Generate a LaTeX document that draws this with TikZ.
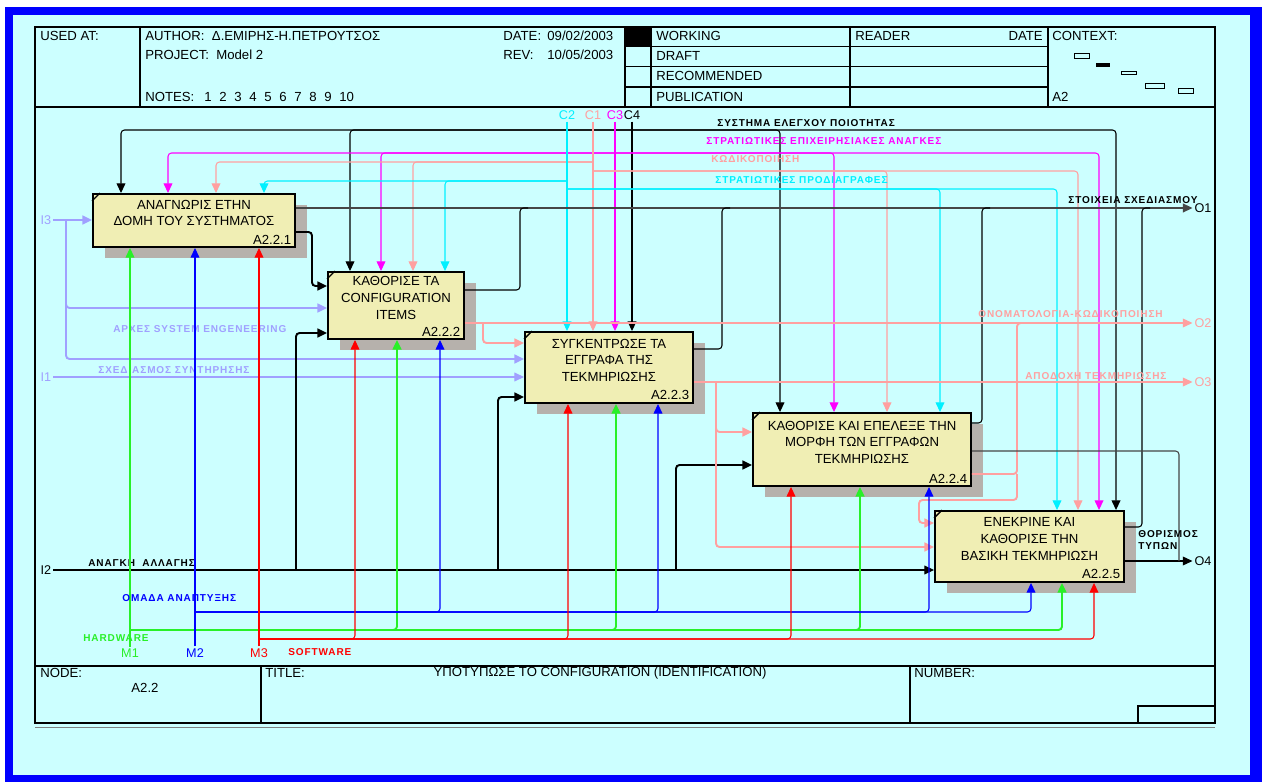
\documentclass[tikz,border=0pt]{standalone}
\usepackage{fontspec}
\setmainfont{Liberation Sans}
\newfontfamily\lblfont[LetterSpace=9]{Liberation Sans}
\usetikzlibrary{arrows.meta}

\definecolor{frameblue}{RGB}{0,0,255}
\definecolor{bgcyan}{RGB}{204,255,255}
\definecolor{boxfill}{RGB}{240,238,180}
\definecolor{shadowgray}{RGB}{182,177,172}
\definecolor{lav}{RGB}{160,160,255}
\definecolor{idpink}{RGB}{255,160,160}
\definecolor{mgnt}{RGB}{255,0,255}
\definecolor{cyn}{RGB}{0,240,255}
\definecolor{grn}{RGB}{40,240,40}
\definecolor{outgray}{RGB}{70,70,70}

\begin{document}
\begin{tikzpicture}[x=0.02cm, y=-0.02cm,
    >={Triangle[length=5.5pt,width=5pt]},
    box/.style={draw, line width=1.1pt, fill=boxfill, inner sep=0pt},
    boxtxt/.style={align=center, font=\fontsize{7.5}{9.5}\selectfont, inner sep=0pt},
    boxid/.style={font=\fontsize{7.5}{8}\selectfont, inner sep=0pt, anchor=south east},
    txt/.style={font=\fontsize{7.5}{8}\selectfont, inner sep=0pt, anchor=west},
    icom/.style={font=\fontsize{7.2}{8}\selectfont, inner sep=1pt},
    lbl/.style={font=\lblfont\bfseries\fontsize{5.7}{7}\selectfont, inner sep=0pt, anchor=west},
    wire/.style={line width=0.6pt, rounded corners=2pt},
    fat/.style={line width=1.1pt, rounded corners=2pt}]
  \useasboundingbox (0,0) rectangle (1266,783);

  % Sheet and frame
  \fill[white] (0,0) rectangle (1266,783);
  \fill[frameblue] (5,7) rectangle (1262,782);
  \fill[bgcyan] (13,15) rectangle (1250,775);
  \draw[line width=1pt] (35,27) rectangle (1215,723);
  \draw[gray, line width=1pt] (35,727.5) -- (1215,727.5);

  % Header block
  \draw[line width=0.8pt] (35,107) -- (1215,107);
  \draw[line width=0.8pt] (140,27) -- (140,107);
  \draw[line width=0.8pt] (625,27) -- (625,107);
  \draw[line width=0.8pt] (651,27) -- (651,107);
  \draw[line width=0.8pt] (850,27) -- (850,107);
  \draw[line width=0.8pt] (1048,27) -- (1048,107);
  \draw[line width=0.8pt] (625,46.5) -- (1048,46.5);
  \draw[line width=0.8pt] (625,66.5) -- (1048,66.5);
  \draw[line width=0.8pt] (625,87) -- (1048,87);
  \fill (625,27) rectangle (651,46.5);

  \node[txt] (usedat) at (40,36) {USED AT:};
  \node[txt] (author) at (145,36) {AUTHOR:\ \ Δ.ΕΜΙΡΗΣ-Η.ΠΕΤΡΟΥΤΣΟΣ};
  \node[txt] (project) at (145,55) {PROJECT:\ \ Model 2};
  \node[txt] (notes) at (145,97) {NOTES:};
  \foreach \n in {1,...,10}
    \node[txt] (note\n) at (189+15*\n,97) {\n};
  \node[txt] (date) at (503,36) {DATE:};
  \node[txt] (dateval) at (547,36) {09/02/2003};
  \node[txt] (rev) at (503,55) {REV:};
  \node[txt] (revval) at (547,55) {10/05/2003};
  \node[txt] (working) at (656,36) {WORKING};
  \node[txt] (draft) at (656,56) {DRAFT};
  \node[txt] (recommended) at (656,76) {RECOMMENDED};
  \node[txt] (publication) at (656,97) {PUBLICATION};
  \node[txt] (reader) at (855,36) {READER};
  \node[txt, anchor=east] (readerdate) at (1043,36) {DATE};
  \node[txt] (context) at (1052,36) {CONTEXT:};
  \node[txt] (ctxnode) at (1052,97) {A2};

  % Context map
  \draw[line width=0.5pt] (1074,53) rectangle (1089,58);
  \fill (1096,63) rectangle (1110,67);
  \draw[line width=0.5pt] (1121,71) rectangle (1136,74);
  \draw[line width=0.5pt] (1145,83) rectangle (1164,88);
  \draw[line width=0.5pt] (1178,88) rectangle (1193,93);

  % Footer block
  \draw[line width=0.8pt] (35,666) -- (1215,666);
  \draw[line width=0.8pt] (261,666) -- (261,723);
  \draw[line width=0.8pt] (910,666) -- (910,723);
  \draw[line width=0.8pt] (1138,723) -- (1138,706) -- (1215,706);
  \node[txt] (nodelbl) at (40,673) {NODE:};
  \node[txt, anchor=center] (nodeval) at (145,688) {A2.2};
  \node[txt] (titlelbl) at (265,673) {TITLE:};
  \node[txt, anchor=center] (title) at (600,673) {ΥΠΟΤΥΠΩΣΕ ΤΟ CONFIGURATION (IDENTIFICATION)};
  \node[txt] (numberlbl) at (914,673) {NUMBER:};

  % Shadows
  \fill[shadowgray] (105,205) rectangle (307,258);
  \fill[shadowgray] (340,283) rectangle (476,350);
  \fill[shadowgray] (537,343) rectangle (705,414);
  \fill[shadowgray] (765,424) rectangle (983,497);
  \fill[shadowgray] (947,522) rectangle (1136,593);

  % Activity boxes
  \node[box, minimum width=4.04cm, minimum height=1.06cm] (b1) at (194,220.5) {};
  \node[box, minimum width=2.72cm, minimum height=1.34cm] (b2) at (396,305.5) {};
  \node[box, minimum width=3.36cm, minimum height=1.42cm] (b3) at (609,367.5) {};
  \node[box, minimum width=4.36cm, minimum height=1.46cm] (b4) at (862,449.5) {};
  \node[box, minimum width=3.78cm, minimum height=1.42cm] (b5) at (1029.5,546.5) {};
  \foreach \b in {b1,b2,b3,b4,b5}
    \draw[line width=0.8pt] ([yshift=-4.5pt]\b.north west) -- ([xshift=4.5pt]\b.north west);

  \node[boxtxt] (b1t) at ([yshift=4.2pt]b1.center) {ΑΝΑΓΝΩΡΙΣ ΕΤΗΝ\\ΔΟΜΗ ΤΟΥ ΣΥΣΤΗΜΑΤΟΣ};
  \node[boxtxt] (b2t) at ([yshift=4.2pt]b2.center) {ΚΑΘΟΡΙΣΕ ΤΑ\\CONFIGURATION\\ITEMS};
  \node[boxtxt] (b3t) at ([yshift=4.2pt]b3.center) {ΣΥΓΚΕΝΤΡΩΣΕ ΤΑ\\ΕΓΓΡΑΦΑ ΤΗΣ\\ΤΕΚΜΗΡΙΩΣΗΣ};
  \node[boxtxt] (b4t) at ([yshift=4.2pt]b4.center) {ΚΑΘΟΡΙΣΕ ΚΑΙ ΕΠΕΛΕΞΕ ΤΗΝ\\ΜΟΡΦΗ ΤΩΝ ΕΓΓΡΑΦΩΝ\\ΤΕΚΜΗΡΙΩΣΗΣ};
  \node[boxtxt] (b5t) at ([yshift=4.2pt]b5.center) {ΕΝΕΚΡΙΝΕ ΚΑΙ\\ΚΑΘΟΡΙΣΕ ΤΗΝ\\ΒΑΣΙΚΗ ΤΕΚΜΗΡΙΩΣΗ};
  \node[boxid] (b1n) at ([shift={(-2.5pt,2pt)}]b1.south east) {A2.2.1};
  \node[boxid] (b2n) at ([shift={(-2.5pt,2pt)}]b2.south east) {A2.2.2};
  \node[boxid] (b3n) at ([shift={(-2.5pt,2pt)}]b3.south east) {A2.2.3};
  \node[boxid] (b4n) at ([shift={(-2.5pt,2pt)}]b4.south east) {A2.2.4};
  \node[boxid] (b5n) at ([shift={(-2.5pt,2pt)}]b5.south east) {A2.2.5};

  % Controls
  \node[icom, text=cyn] (c2) at (567,115) {C2};
  \node[icom, text=idpink] (c1) at (593,115) {C1};
  \node[icom, text=mgnt] (c3) at (615,115) {C3};
  \node[icom] (c4) at (632,115) {C4};
  \coordinate (c4j) at (632,130);
  \coordinate (c3j) at (615,153);
  \coordinate (c1l) at (593,162);
  \coordinate (c1r) at (593,171);
  \coordinate (c2l) at (567,181);
  \coordinate (c2r) at (567,189);

  \draw[wire, ->] (c4) -- (c4 |- b3.north);
  \draw[wire, ->] (c4j) -| (121,0 |- b1.north);
  \draw[wire, ->] (c4j) -| (350,0 |- b2.north);
  \draw[wire, ->] (c4j) -| (780,0 |- b4.north);
  \draw[wire, ->] (c4j) -| (1116,0 |- b5.north);

  \draw[wire, mgnt, ->] (c3) -- (c3 |- b3.north);
  \draw[wire, mgnt, ->] (c3j) -| (168,0 |- b1.north);
  \draw[wire, mgnt, ->] (c3j) -| (381,0 |- b2.north);
  \draw[wire, mgnt, ->] (c3j) -| (834,0 |- b4.north);
  \draw[wire, mgnt, ->] (c3j) -| (1099,0 |- b5.north);

  \draw[wire, idpink, ->] (c1) -- (c1 |- b3.north);
  \draw[wire, idpink, ->] (c1l) -| (216,0 |- b1.north);
  \draw[wire, idpink, ->] (c1l) -| (413,0 |- b2.north);
  \draw[wire, idpink, ->] (c1r) -| (887,0 |- b4.north);
  \draw[wire, idpink, ->] (c1r) -| (1078,0 |- b5.north);

  \draw[wire, cyn, ->] (c2) -- (c2 |- b3.north);
  \draw[wire, cyn, ->] (c2l) -| (264,0 |- b1.north);
  \draw[wire, cyn, ->] (c2l) -| (445,0 |- b2.north);
  \draw[wire, cyn, ->] (c2r) -| (940,0 |- b4.north);
  \draw[wire, cyn, ->] (c2r) -| (1057,0 |- b5.north);

  \node[lbl] (qsys) at (717,123) {ΣΥΣΤΗΜΑ ΕΛΕΓΧΟΥ ΠΟΙΟΤΗΤΑΣ};
  \node[lbl, text=mgnt] (opneeds) at (706,141) {ΣΤΡΑΤΙΩΤΙΚΕΣ ΕΠΙΧΕΙΡΗΣΙΑΚΕΣ ΑΝΑΓΚΕΣ};
  \node[lbl, text=idpink] (coding) at (711,159) {ΚΩΔΙΚΟΠΟΙΗΣΗ};
  \node[lbl, text=cyn] (milspec) at (715,180) {ΣΤΡΑΤΙΩΤΙΚΕΣ ΠΡΟΔΙΑΓΡΑΦΕΣ};

  % Inputs
  \node[icom, text=lav] (i3) at (46,220) {I3};
  \node[icom, text=lav] (i1) at (46,377) {I1};
  \node[icom] (i2) at (46,570) {I2};
  \coordinate (i3j) at (66,220);
  \draw[fat, lav, ->] (i3) -- (i3 -| b1.west);
  \draw[fat, lav, ->] (i3j) |- (b2.west |- 0,308);
  \draw[fat, lav, ->] (i3j) |- (b3.west |- 0,359);
  \draw[wire, lav, ->] (i1) -- (i1 -| b3.west);
  \node[lbl, text=lav] (syseng) at (113,329) {ΑΡΧΕΣ SYSTEM ENGENEERING};
  \node[lbl, text=lav] (maint) at (98,370) {ΣΧΕΔΙΑΣΜΟΣ ΣΥΝΤΗΡΗΣΗΣ};

  \coordinate (i2a) at (296,570);
  \coordinate (i2b) at (498,570);
  \coordinate (i2c) at (676,570);
  \draw[wire, ->] (i2) -- (i2 -| b5.west);
  \draw[fat, ->] (i2a) |- (b2.west |- 0,333);
  \draw[fat, ->] (i2b) |- (b3.west |- 0,397);
  \draw[fat, ->] (i2c) |- (b4.west |- 0,465);
  \node[lbl] (change) at (88,563) {ΑΝΑΓΚΗ\ \ ΑΛΛΑΓΗΣ};

  % Outputs
  \node[icom] (o1) at (1203,208) {O1};
  \node[icom, text=idpink] (o2) at (1203,323) {O2};
  \node[icom, text=idpink] (o3) at (1203,382) {O3};
  \node[icom] (o4) at (1203,561) {O4};

  \draw[fat, outgray, ->] (b1.east |- 0,208) -- (o1);
  \draw[fat, ->] (b1.east |- 0,232) -- (312,232) -- (312,286) -- (b2.west |- 0,286);
  \draw[wire] (b2.east |- 0,290) -| (520,208) -- ++(8,0);
  \draw[wire] (b3.east |- 0,349) -| (722,208) -- ++(8,0);
  \draw[wire] (b4.east |- 0,423) -| (982,208) -- ++(8,0);
  \draw[wire] (b5.east |- 0,527) -| (1142,208) -- ++(8,0);
  \node[lbl] (design) at (1068,200) {ΣΤΟΙΧΕΙΑ ΣΧΕΔΙΑΣΜΟΥ};

  \coordinate (o2a) at (483,323);
  \draw[wire, idpink, ->] (b2.east |- 0,323) -- (o2);
  \draw[fat, idpink, ->] (o2a) |- (b3.west |- 0,343);
  \draw[fat, idpink] (b4.east |- 0,474) -| (1017,323) -- ++(8,0);
  \draw[fat, idpink, ->] (1017,474) -- (1017,500) -| (919,523) -- (b5.west |- 0,523);
  \node[lbl, text=idpink] (naming) at (978,314) {ΟΝΟΜΑΤΟΛΟΓΙΑ-ΚΩΔΙΚΟΠΟΙΗΣΗ};

  \coordinate (o3a) at (716,382);
  \draw[wire, idpink, ->] (b3.east |- 0,382) -- (o3);
  \draw[fat, idpink, ->] (o3a) |- (b4.west |- 0,432);
  \draw[fat, idpink, ->] (o3a) |- (b5.west |- 0,547);
  \node[lbl, text=idpink] (accept) at (1025,376) {ΑΠΟΔΟΧΗ ΤΕΚΜΗΡΙΩΣΗΣ};

  \draw[wire, ->] (b5.east |- 0,561) -- (o4);
  \draw[wire, outgray] (b4.east |- 0,451) -| (1179,561);
  \node[lbl, align=left] (types) at (1138,540) {ΘΟΡΙΣΜΟΣ\\ΤΥΠΩΝ};

  % Mechanisms
  \node[icom, text=grn] (m1) at (130,653) {M1};
  \node[icom, text=blue] (m2) at (195,653) {M2};
  \node[icom, text=red] (m3) at (259,653) {M3};
  \coordinate (m1j) at (130,630);
  \coordinate (m2j) at (195,612);
  \coordinate (m3j) at (259,639);

  \draw[wire, grn, ->] (m1) -- (m1 |- b1.south);
  \draw[fat, grn, ->] (m1j) -| (397,0 |- b2.south);
  \draw[fat, grn, ->] (m1j) -| (616,0 |- b3.south);
  \draw[fat, grn, ->] (m1j) -| (860,0 |- b4.south);
  \draw[fat, grn, ->] (m1j) -| (1062,0 |- b5.south);

  \draw[wire, blue, ->] (m2) -- (m2 |- b1.south);
  \draw[wire, blue, ->] (m2j) -| (440,0 |- b2.south);
  \draw[wire, blue, ->] (m2j) -| (658,0 |- b3.south);
  \draw[wire, blue, ->] (m2j) -| (929,0 |- b4.south);
  \draw[wire, blue, ->] (m2j) -| (1031,0 |- b5.south);

  \draw[wire, red, ->] (m3) -- (m3 |- b1.south);
  \draw[wire, red, ->] (m3j) -| (355,0 |- b2.south);
  \draw[wire, red, ->] (m3j) -| (568,0 |- b3.south);
  \draw[wire, red, ->] (m3j) -| (791,0 |- b4.south);
  \draw[wire, red, ->] (m3j) -| (1094,0 |- b5.south);

  \node[lbl, text=grn] (hw) at (83,638) {HARDWARE};
  \node[lbl, text=blue] (team) at (122,598) {ΟΜΑΔΑ ΑΝΑΠΤΥΞΗΣ};
  \node[lbl, text=red] (sw) at (288,652) {SOFTWARE};
\end{tikzpicture}
\end{document}
